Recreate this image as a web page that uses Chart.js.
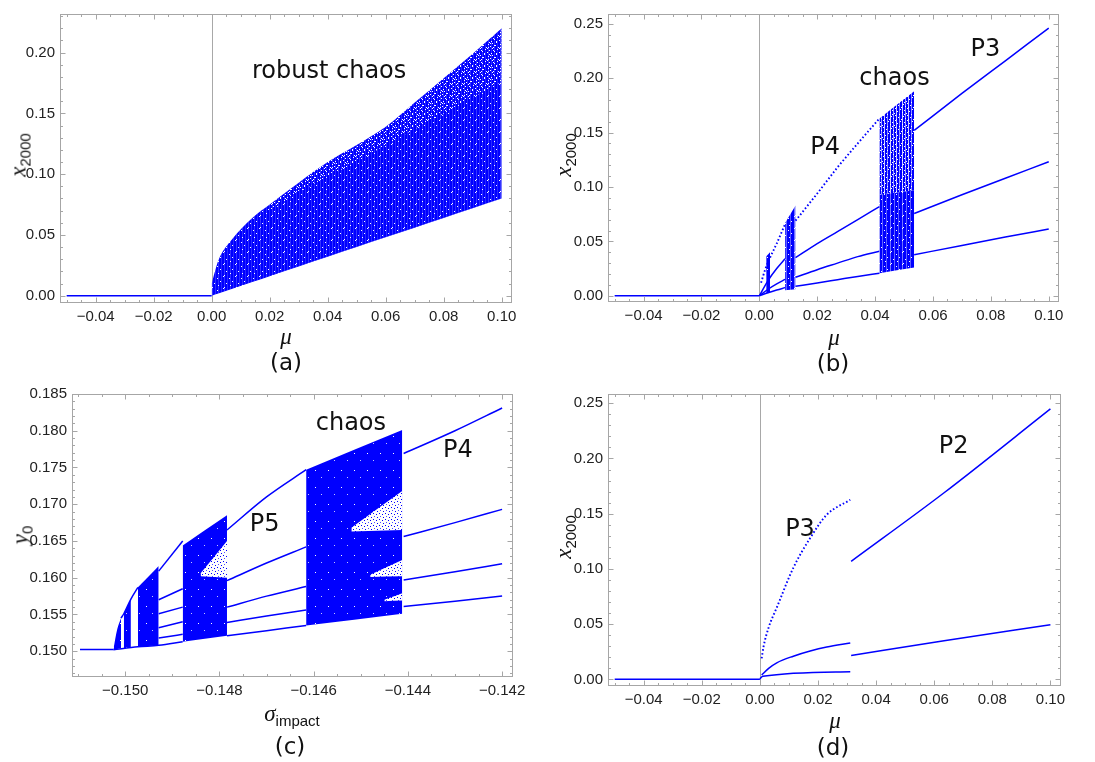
<!DOCTYPE html>
<html>
<head>
<meta charset="utf-8">
<script src="https://cdn.jsdelivr.net/npm/chart.js@4.4.1/dist/chart.umd.min.js"></script>
<style>
  html, body { margin: 0; padding: 0; background: #fff; }
  body { width: 1095px; height: 762px; position: relative; overflow: hidden; }
  canvas { position: absolute; }
  .lbl { position: absolute; transform: translate(-50%, -50%); white-space: nowrap; color: #111; line-height: 1; }
  .tag { font-family: "DejaVu Sans", sans-serif; font-size: 23px; }
  .sym { font-family: "Liberation Serif", serif; font-style: italic; font-size: 23px; }
  .sub { font-family: "Liberation Sans", sans-serif; font-style: normal; font-size: 15px; position: relative; top: 5px; }
  .rot { transform: translate(-50%, -50%) rotate(-90deg); }
</style>
</head>
<body>
<canvas id="pa" width="547" height="380" style="left:0;top:0"></canvas>
<canvas id="pb" width="548" height="380" style="left:547px;top:0"></canvas>
<canvas id="pc" width="547" height="382" style="left:0;top:380px"></canvas>
<canvas id="pd" width="548" height="382" style="left:547px;top:380px"></canvas>

<div class="lbl rot sym" style="left:18px;top:155px">x<span class="sub">2000</span></div>
<div class="lbl sym" style="left:286px;top:336px">μ</div>
<div class="lbl tag" style="left:286px;top:362px">(a)</div>

<div class="lbl rot sym" style="left:563px;top:155px">x<span class="sub">2000</span></div>
<div class="lbl sym" style="left:834px;top:337px">μ</div>
<div class="lbl tag" style="left:833px;top:363px">(b)</div>

<div class="lbl rot sym" style="left:20px;top:535px">y<span class="sub">0</span></div>
<div class="lbl sym" style="left:292px;top:713px">σ<span class="sub">impact</span></div>
<div class="lbl tag" style="left:290px;top:746px">(c)</div>

<div class="lbl rot sym" style="left:563px;top:537px">x<span class="sub">2000</span></div>
<div class="lbl sym" style="left:835px;top:720px">μ</div>
<div class="lbl tag" style="left:833px;top:747px">(d)</div>

<script>
const BLUE = '#0000ff';

// tick values
const muTicks = [-0.04, -0.02, 0, 0.02, 0.04, 0.06, 0.08, 0.10];
const aTicksY = [0, 0.05, 0.10, 0.15, 0.20];
const bdTicksY = [0, 0.05, 0.10, 0.15, 0.20, 0.25];
const cTicksX = [-0.150, -0.148, -0.146, -0.144, -0.142];
const cTicksY = [0.150, 0.155, 0.160, 0.165, 0.170, 0.175, 0.180, 0.185];

// stable fixed point for mu < 0
const fixedMu = [-0.05, 0];
const fixedX = [0, 0];

// (a) robust chaos
const aMu = [0, 0.0023, 0.0069, 0.014, 0.02, 0.03, 0.04, 0.05, 0.06, 0.07, 0.08, 0.09, 0.10];
const aTop = [0.010, 0.029, 0.046, 0.064, 0.075, 0.093, 0.110, 0.124, 0.139, 0.159, 0.179, 0.199, 0.220];
const aBottom = [0, 0.0018, 0.0055, 0.0112, 0.016, 0.024, 0.032, 0.040, 0.048, 0.056, 0.064, 0.072, 0.080];
const aLightMu = [0.02, 0.03, 0.04, 0.05, 0.06, 0.07, 0.08, 0.09, 0.10];
const aLightLow = [0.070, 0.085, 0.098, 0.110, 0.124, 0.137, 0.150, 0.163, 0.176];
const aLightTop = [0.075, 0.093, 0.110, 0.124, 0.139, 0.159, 0.179, 0.199, 0.220];

// (b) windows and periodic branches
const b1Mu = [0.0023, 0.0037], b1Low = [0.002, 0.003], b1Top = [0.036, 0.040];
const bDotMu = [0.0006, 0.002, 0.0037, 0.006, 0.0089];
const bDot = [0.012, 0.024, 0.035, 0.048, 0.066];
const bLeadMu = [0, 0.003, 0.006, 0.0089];
const bLead2 = [0, 0.014, 0.025, 0.034];
const bLead3 = [0, 0.006, 0.011, 0.015];
const bLead4 = [0, 0.0028, 0.0053, 0.0075];
const b2Mu = [0.0089, 0.0125], b2Low = [0.005, 0.006], b2Top = [0.067, 0.083];
const bP4Mu = [0.0125, 0.02, 0.027, 0.034, 0.0415];
const bP4a = [0.069, 0.094, 0.118, 0.140, 0.163];
const bP4b = [0.035, 0.048, 0.059, 0.070, 0.082];
const bP4c = [0.017, 0.024, 0.030, 0.036, 0.041];
const bP4d = [0.0087, 0.0118, 0.0148, 0.0178, 0.0208];
const b3Mu = [0.0415, 0.0535], b3Low = [0.0208, 0.026], b3Mid = [0.093, 0.097], b3Top = [0.163, 0.188];
const bP3Mu = [0.0535, 0.07, 0.085, 0.10];
const bP3a = [0.152, 0.186, 0.216, 0.246];
const bP3b = [0.0756, 0.0928, 0.108, 0.1232];
const bP3c = [0.0377, 0.0463, 0.0540, 0.0614];

// (c) cascade in sigma_impact
const cFixedMu = [-0.15096, -0.15025], cFixed = [0.15022, 0.15022];
const c1Mu = [-0.15025, -0.15017, -0.15009], c1Low = [0.1502, 0.1503, 0.1504], c1Top = [0.1503, 0.1530, 0.1545];
const c2Mu = [-0.15003, -0.14988], c2Low = [0.1504, 0.1505], c2Top = [0.1551, 0.1571];
const c3Mu = [-0.14973, -0.14929], c3Low = [0.1506, 0.1508], c3Top = [0.1587, 0.1616];
const cGapMu = [-0.15009, -0.15003, -0.14988, -0.14973];
const cGapTop = [0.1545, 0.1551, 0.1571, 0.1587];
const cP6Mu = [-0.14929, -0.14878];
const cP6a = [0.1609, 0.1650], cP6b = [0.1570, 0.1585], cP6c = [0.1551, 0.1560];
const cP6d = [0.1532, 0.1540], cP6e = [0.1518, 0.1523];
const cBottomMu = [-0.15025, -0.14973, -0.14929, -0.14878];
const cBottom = [0.1502, 0.1506, 0.1508, 0.1513];
const dWinMu = [-0.14878, -0.14784], dWinLow = [0.1513, 0.1521], dWinTop = [0.1644, 0.1685];
const dHoleMu = [-0.1484, -0.14784], dHoleLow = [0.1602, 0.1600], dHoleTop = [0.1606, 0.1650];
const cP5Mu = [-0.14784, -0.1470, -0.14616];
const cP5a = [0.1665, 0.1710, 0.1747];
const cP5b = [0.1596, 0.1620, 0.1642];
const cP5c = [0.1560, 0.1575, 0.1588];
const cP5d = [0.1539, 0.1548, 0.1556];
const cP5e = [0.1521, 0.1528, 0.1535];
const eWinMu = [-0.14616, -0.14412], eWinLow = [0.1535, 0.1551], eWinTop = [0.1747, 0.1801];
const eHole1Mu = [-0.1452, -0.14412], eHole1Low = [0.1663, 0.1665], eHole1Top = [0.1668, 0.1718];
const eHole2Mu = [-0.1448, -0.14412], eHole2Low = [0.1601, 0.1602], eHole2Top = [0.1604, 0.1624];
const eHole3Mu = [-0.1445, -0.14412], eHole3Low = [0.1568, 0.1569], eHole3Top = [0.1570, 0.1579];
const cP4Mu = [-0.14409, -0.1430, -0.1420];
const cP4a = [0.1769, 0.1800, 0.1831];
const cP4b = [0.1656, 0.1675, 0.1693];
const cP4c = [0.1597, 0.1608, 0.1619];
const cP4d = [0.1561, 0.1568, 0.1575];

// (d) P3 then P2
const dTopMu = [0.0006, 0.0012, 0.003, 0.0058, 0.0115, 0.0173, 0.023, 0.0311];
const dTop = [0.019, 0.029, 0.047, 0.065, 0.101, 0.128, 0.149, 0.1626];
const dMidMu = [0.0006, 0.003, 0.0058, 0.0115, 0.0173, 0.023, 0.0311];
const dMid = [0.004, 0.010, 0.015, 0.021, 0.0257, 0.0293, 0.0329];
const dLowMu = [0, 0.001, 0.0311], dLow = [0.0005, 0.0028, 0.0069];
const dP2Mu = [0.0314, 0.0634, 0.10];
const dP2Top = [0.1069, 0.169, 0.2449];
const dP2Low = [0.0216, 0.035, 0.0494];

const pts = (mu, v) => mu.map((m, i) => ({ x: m, y: v[i] }));

function branch(mu, v, dotted) {
  return {
    data: pts(mu, v), borderColor: BLUE, borderWidth: dotted ? 1.9 : 1.5,
    borderDash: dotted ? [1.6, 2.2] : [], pointRadius: 0, fill: false
  };
}

function band(mu, lo, hi, fillStyle) {
  return [
    { data: pts(mu, lo), borderColor: 'transparent', borderWidth: 0, pointRadius: 0, fill: false },
    { data: pts(mu, hi), borderColor: 'transparent', borderWidth: 0, pointRadius: 0, fill: '-1', backgroundColor: fillStyle }
  ];
}

// small repeating tiles that give the point clouds their grain
function tile(ctx, w, h, base, cols, dots) {
  const c = document.createElement('canvas');
  c.width = w; c.height = h;
  const g = c.getContext('2d');
  g.fillStyle = base; g.fillRect(0, 0, w, h);
  cols.forEach(([x, col]) => { g.fillStyle = col; g.fillRect(x, 0, 1, h); });
  dots.forEach(([x, y, col]) => { g.fillStyle = col; g.fillRect(x, y, 1, 1); });
  return ctx.createPattern(c, 'repeat');
}

const W = '#ffffff';
const speckle = [[1, 2, W], [7, 0, W], [4, 5, W], [10, 7, W], [2, 9, W], [8, 11, W]];
const heavySpeckle = [[0, 0, W], [5, 1, W], [9, 2, W], [2, 3, W], [7, 4, W], [11, 5, W], [4, 6, W],
  [0, 7, W], [8, 8, W], [3, 9, W], [10, 10, W], [6, 11, W], [1, 11, W], [9, 6, W]];

const fmt = d => v => v.toFixed(d).replace('-', '\u2212');

const framePlugin = {
  id: 'frame',
  beforeDatasetsDraw(chart, args, opts) {
    if (opts.zero === undefined) return;
    const { ctx, chartArea: a, scales: { x } } = chart;
    const px = Math.round(x.getPixelForValue(opts.zero)) + 0.5;
    ctx.save();
    ctx.strokeStyle = '#a8a8a8'; ctx.lineWidth = 1;
    ctx.beginPath(); ctx.moveTo(px, a.top); ctx.lineTo(px, a.bottom); ctx.stroke();
    ctx.restore();
  },
  afterDatasetsDraw(chart, args, opts) {
    const { ctx, chartArea: a, scales: { x, y } } = chart;
    const L = Math.round(a.left) + 0.5, R = Math.round(a.right) + 0.5;
    const T = Math.round(a.top) + 0.5, B = Math.round(a.bottom) + 0.5;
    ctx.save();
    ctx.strokeStyle = '#a6a6a6'; ctx.lineWidth = 1;
    ctx.strokeRect(L, T, R - L, B - T);
    ctx.beginPath();
    const xMark = (v, len) => {
      const p = Math.round(x.getPixelForValue(v)) + 0.5;
      ctx.moveTo(p, B); ctx.lineTo(p, B - len); ctx.moveTo(p, T); ctx.lineTo(p, T + len);
    };
    const yMark = (v, len) => {
      const p = Math.round(y.getPixelForValue(v)) + 0.5;
      ctx.moveTo(L, p); ctx.lineTo(L + len, p); ctx.moveTo(R, p); ctx.lineTo(R - len, p);
    };
    const minor = (scale, step, mark) => {
      for (let k = Math.ceil(scale.min / step - 1e-6); k * step <= scale.max + 1e-9; k++) mark(k * step, 2.5);
    };
    minor(x, opts.xMinor, xMark);
    minor(y, opts.yMinor, yMark);
    x.ticks.forEach(t => xMark(t.value, 5));
    y.ticks.forEach(t => yMark(t.value, 5));
    ctx.stroke();
    ctx.fillStyle = '#111';
    ctx.font = '24px "DejaVu Sans"';
    ctx.textAlign = 'center'; ctx.textBaseline = 'middle';
    (opts.notes || []).forEach(n => ctx.fillText(n.text, x.getPixelForValue(n.x), y.getPixelForValue(n.y)));
    ctx.restore();
  }
};

const tickFont = { family: '"Liberation Sans", Arial, sans-serif', size: 15 };

function makeChart(id, box, range, ticks, digits, datasets, frameOpts) {
  const [xr, yr] = range;
  return new Chart(document.getElementById(id), {
    type: 'line',
    data: { datasets },
    options: {
      responsive: false, animation: false, events: [],
      layout: { padding: { left: 0, top: box.top, right: box.right, bottom: 0 } },
      elements: { line: { cubicInterpolationMode: 'monotone' }, point: { radius: 0 } },
      plugins: { legend: { display: false }, tooltip: { enabled: false }, frame: frameOpts },
      scales: {
        x: {
          type: 'linear', min: xr[0], max: xr[1],
          grid: { display: false, drawTicks: false }, border: { display: false },
          afterBuildTicks: s => { s.ticks = ticks[0].map(v => ({ value: v })); },
          afterFit: s => { s.height = box.bottom; },
          ticks: { padding: 6, color: '#222', font: tickFont, maxRotation: 0, autoSkip: false, callback: fmt(digits[0]) }
        },
        y: {
          type: 'linear', min: yr[0], max: yr[1],
          grid: { display: false, drawTicks: false }, border: { display: false },
          afterBuildTicks: s => { s.ticks = ticks[1].map(v => ({ value: v })); },
          afterFit: s => { s.width = box.left; },
          ticks: { padding: 5, color: '#222', font: tickFont, autoSkip: false, callback: fmt(digits[1]) }
        }
      }
    },
    plugins: [framePlugin]
  });
}

// (a)
{
  const ctx = document.getElementById('pa').getContext('2d');
  const dense = tile(ctx, 12, 12, BLUE, [[2, '#3030ff'], [5, '#2626ff'], [8, '#3434ff'], [11, '#2a2aff']], speckle);
  const light = tile(ctx, 12, 12, 'rgba(0,0,0,0)', [], heavySpeckle);
  makeChart('pa', { left: 60, top: 9, right: 36, bottom: 78 },
    [[-0.0523, 0.1032], [-0.0052, 0.2318]], [muTicks, aTicksY], [2, 2], [
      branch(fixedMu, fixedX),
      ...band(aLightMu, aLightLow, aLightTop, light),
      ...band(aMu, aBottom, aTop, dense)
    ], { zero: 0, xMinor: 0.005, yMinor: 0.01, notes: [{ text: 'robust chaos', x: 0.0405, y: 0.184 }] });
}

// (b)
{
  const ctx = document.getElementById('pb').getContext('2d');
  const dense = tile(ctx, 12, 12, BLUE, [[3, '#5c5cff'], [7, '#7070ff'], [11, '#6060ff']], speckle);
  const sparse = tile(ctx, 12, 12, BLUE, [[1, '#c8c8ff'], [4, '#9090ff'], [7, '#d0d0ff'], [10, '#a0a0ff']], heavySpeckle);
  makeChart('pb', { left: 61, top: 9, right: 37, bottom: 79 },
    [[-0.0523, 0.1032], [-0.0048, 0.259]], [muTicks, bdTicksY], [2, 2], [
      branch(fixedMu, fixedX),
      branch(bDotMu, bDot, true),
      branch(bLeadMu, bLead2), branch(bLeadMu, bLead3), branch(bLeadMu, bLead4),
      branch(bP4Mu, bP4a, true), branch(bP4Mu, bP4b), branch(bP4Mu, bP4c), branch(bP4Mu, bP4d),
      branch(bP3Mu, bP3a), branch(bP3Mu, bP3b), branch(bP3Mu, bP3c),
      ...band(b1Mu, b1Low, b1Top, dense),
      ...band(b2Mu, b2Low, b2Top, dense),
      ...band(b3Mu, b3Mid, b3Top, sparse),
      ...band(b3Mu, b3Low, b3Mid, dense)
    ], {
      zero: 0, xMinor: 0.005, yMinor: 0.01, notes: [
        { text: 'P3', x: 0.0781, y: 0.2265 },
        { text: 'chaos', x: 0.0467, y: 0.1994 },
        { text: 'P4', x: 0.0227, y: 0.136 }
      ]
    });
}

// (c)
{
  const ctx = document.getElementById('pc').getContext('2d');
  const solid = tile(ctx, 13, 17, BLUE, [], [[3, 5, W], [9, 12, '#c8c8ff']]);
  const holes = tile(ctx, 6, 6, W, [], [[1, 1, BLUE], [4, 2, BLUE], [2, 4, '#5050ff'], [5, 5, BLUE]]);
  makeChart('pc', { left: 72, top: 11, right: 35, bottom: 86 },
    [[-0.15113, -0.14179], [0.14663, 0.185]], [cTicksX, cTicksY], [3, 3], [
      branch(cFixedMu, cFixed),
      branch(cGapMu, cGapTop), branch(cBottomMu, cBottom),
      branch(cP6Mu, cP6a), branch(cP6Mu, cP6b), branch(cP6Mu, cP6c), branch(cP6Mu, cP6d), branch(cP6Mu, cP6e),
      branch(cP5Mu, cP5a), branch(cP5Mu, cP5b), branch(cP5Mu, cP5c), branch(cP5Mu, cP5d), branch(cP5Mu, cP5e),
      branch(cP4Mu, cP4a), branch(cP4Mu, cP4b), branch(cP4Mu, cP4c), branch(cP4Mu, cP4d),
      ...band(dHoleMu, dHoleLow, dHoleTop, holes),
      ...band(eHole1Mu, eHole1Low, eHole1Top, holes),
      ...band(eHole2Mu, eHole2Low, eHole2Top, holes),
      ...band(eHole3Mu, eHole3Low, eHole3Top, holes),
      ...band(c1Mu, c1Low, c1Top, solid),
      ...band(c2Mu, c2Low, c2Top, solid),
      ...band(c3Mu, c3Low, c3Top, solid),
      ...band(dWinMu, dWinLow, dWinTop, solid),
      ...band(eWinMu, eWinLow, eWinTop, solid)
    ], {
      xMinor: 0.0005, yMinor: 0.001, notes: [
        { text: 'chaos', x: -0.14521, y: 0.1810 },
        { text: 'P4', x: -0.14294, y: 0.1773 },
        { text: 'P5', x: -0.14704, y: 0.1672 }
      ]
    });
}

// (d)
makeChart('pd', { left: 61, top: 12, right: 35, bottom: 77 },
  [[-0.0523, 0.1033], [-0.0051, 0.2584]], [muTicks, bdTicksY], [2, 2], [
    branch(fixedMu, fixedX),
    branch(dTopMu, dTop, true), branch(dMidMu, dMid), branch(dLowMu, dLow),
    branch(dP2Mu, dP2Top), branch(dP2Mu, dP2Low)
  ], {
    zero: 0, xMinor: 0.005, yMinor: 0.01, notes: [
      { text: 'P3', x: 0.0138, y: 0.1356 },
      { text: 'P2', x: 0.0667, y: 0.2105 }
    ]
  });
</script>
</body>
</html>
